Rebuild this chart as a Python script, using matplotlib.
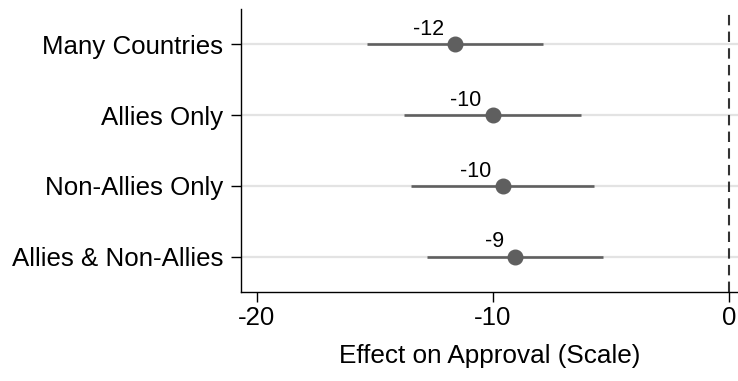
import numpy as np
import matplotlib
matplotlib.use("Agg")
import matplotlib.pyplot as plt

plt.rcParams['font.family'] = ['Liberation Sans', 'DejaVu Sans']

# coefficient estimates and 95% intervals
groups = ['Many Countries', 'Allies Only', 'Non-Allies Only', 'Allies & Non-Allies']
est = [-11.60, -10.01, -9.58, -9.06]
ci_low = [-15.33, -13.75, -13.46, -12.77]
ci_high = [-7.89, -6.28, -5.73, -5.32]
xticks = [-20, -10, 0]

fig = plt.figure(figsize=(7.38, 3.81), dpi=100)
ax = fig.add_axes([241/738, 1 - 292/381, 1 - 241/738, (292 - 9)/381])

ypos = np.arange(1, len(groups) + 1)
col = '#5f5f5f'

for y in ypos:
    ax.axhline(y, color='#e3e3e3', lw=1.6, zorder=0)

ax.hlines(ypos, ci_low, ci_high, color=col, lw=1.9, zorder=2)
ax.plot(est, ypos, 'o', color=col, ms=10.5, zorder=3)
for x, y in zip(est, ypos):
    ax.annotate('%d' % round(x), (x, y), xytext=(-8, 3), textcoords='offset points',
                ha='right', va='bottom', fontsize=15.5)

ax.axvline(0, color='#333333', lw=1.5, ls=(0, (5, 3)), zorder=1)

ax.set_xlim(-20.66, 0.38)
ax.set_ylim(4.5, 0.5)
ax.set_xticks(xticks)
ax.set_xticklabels([str(t) for t in xticks])
ax.set_yticks(ypos)
ax.set_yticklabels(groups)
ax.tick_params(axis='both', labelsize=18.6, length=7, width=1, direction='out')
ax.tick_params(axis='y', pad=6)
ax.tick_params(axis='x', pad=3)
ax.set_xlabel('Effect on Approval (Scale)', fontsize=18.8, labelpad=10)

for s in ['top', 'right']:
    ax.spines[s].set_visible(False)
for s in ['left', 'bottom']:
    ax.spines[s].set_linewidth(1)

fig.savefig('out.png', dpi=100)
